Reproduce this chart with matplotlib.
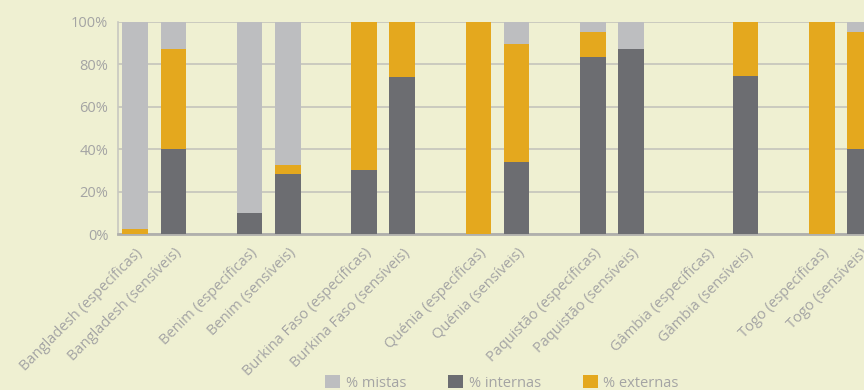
import numpy as np
import matplotlib
matplotlib.use("Agg")
import matplotlib.pyplot as plt
import matplotlib.transforms as mtransforms
from matplotlib.ticker import PercentFormatter

# categories (blank strings are the gaps between countries)
categorias = ["Bangladesh (específicas)", "Bangladesh (sensíveis)", "",
              "Benim (específicas)", "Benim (sensíveis)", "",
              "Burkina Faso (específicas)", "Burkina Faso (sensíveis)", "",
              "Quénia (específicas)", "Quénia (sensíveis)", "",
              "Paquistão (específicas)", "Paquistão (sensíveis)", "",
              "Gâmbia (específicas)", "Gâmbia (sensíveis)", "",
              "Togo (específicas)", "Togo (sensíveis)"]

# shares in %
internas = [0, 40, 0, 10, 28.5, 0, 30.5, 74, 0, 0, 34, 0, 83.5, 87, 0, 0, 74.5, 0, 0, 40]
externas = [2.5, 47, 0, 0, 4, 0, 69.5, 26, 0, 100, 55.5, 0, 11.5, 0, 0, 0, 25.5, 0, 100, 55]
mistas = [97.5, 13, 0, 90, 67.5, 0, 0, 0, 0, 0, 10.5, 0, 5, 13, 0, 0, 0, 0, 0, 5]

fundo = "#EFF0D2"
cor_texto = "#A4A4A4"
cor_mistas = "#BDBEC0"
cor_internas = "#6C6D71"
cor_externas = "#E4A81E"

plt.rcParams['font.family'] = ['Open Sans', 'DejaVu Sans']

fig = plt.figure(figsize=(8.64, 3.9), dpi=100, facecolor=fundo)
ax = fig.add_axes([118 / 864, 0.399, 1 - 118 / 864 + 0.002, 0.545])
ax.set_facecolor(fundo)

x = np.arange(len(categorias))
interna = np.array(internas) / 100
externa = np.array(externas) / 100
mista = np.array(mistas) / 100
w = 0.67

b_int = ax.bar(x, interna, w, color=cor_internas, linewidth=0, zorder=3, label="% internas")
b_ext = ax.bar(x, externa, w, bottom=interna, color=cor_externas, linewidth=0, zorder=3, label="% externas")
b_mis = ax.bar(x, mista, w, bottom=interna + externa, color=cor_mistas, linewidth=0, zorder=3, label="% mistas")

ax.set_xlim(-0.45, 19.15)
ax.set_ylim(0, 1)
ax.set_yticks(np.arange(0, 1.01, 0.2))
ax.yaxis.set_major_formatter(PercentFormatter(1.0, decimals=0))
ax.grid(axis="y", color="#C4C4BC", linewidth=1.2, zorder=0)

ax.set_xticks(x)
ax.set_xticklabels(categorias, rotation=45, ha="right", rotation_mode="anchor",
                   fontsize=10.5, color=cor_texto)
# nudge the slanted labels a little to the right, as in the original
desloc = mtransforms.ScaledTranslation(6 / 100, 0, fig.dpi_scale_trans)
for lbl in ax.get_xticklabels():
    lbl.set_transform(lbl.get_transform() + desloc)
ax.tick_params(axis="x", length=0, pad=8)
ax.tick_params(axis="y", length=0, pad=7, labelsize=10.5, labelcolor=cor_texto)

for s in ["top", "right"]:
    ax.spines[s].set_visible(False)
ax.spines["left"].set_color("#C8C8C0")
ax.spines["left"].set_linewidth(1.2)
ax.spines["bottom"].set_color("#B0B0AC")
ax.spines["bottom"].set_linewidth(2)

fig.legend([b_mis, b_int, b_ext], ["% mistas", "% internas", "% externas"],
           loc="center", bbox_to_anchor=(502 / 864, 1 - 383 / 390), ncol=3,
           frameon=False, fontsize=10.5, labelcolor=cor_texto,
           handlelength=1.0, handleheight=1.0, handletextpad=0.4, columnspacing=2.9)

fig.savefig("out.png", dpi=100, facecolor=fundo)
